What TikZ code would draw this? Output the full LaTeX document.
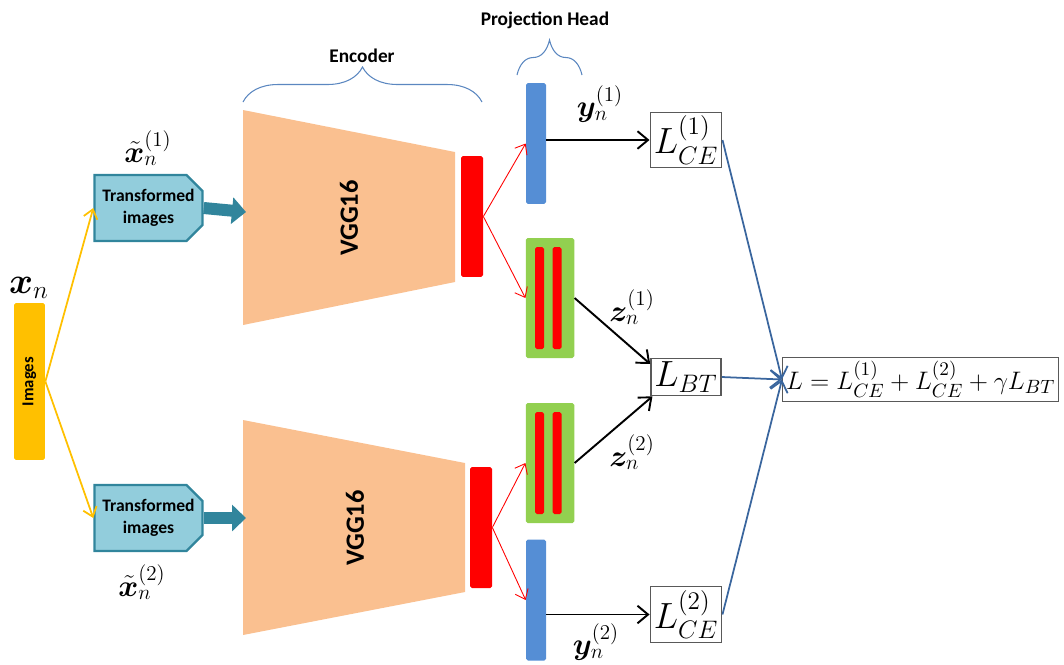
\documentclass[tikz,border=0pt]{standalone}
\usepackage{amsmath}
\usepackage{bm}
\usepackage{fontspec}
\newfontfamily\calibri{Carlito}
\usetikzlibrary{shapes.misc, arrows.meta, decorations.pathreplacing}
\definecolor{imgyellow}{HTML}{FFC000}
\definecolor{tfill}{HTML}{92CDDC}
\definecolor{tdraw}{HTML}{31859C}
\definecolor{peach}{HTML}{FAC090}
\definecolor{headblue}{HTML}{558ED5}
\definecolor{headgreen}{HTML}{92D050}
\definecolor{lossblue}{HTML}{3A669E}
\definecolor{braceblue}{HTML}{5B87C0}
\tikzset{
    imagesbar/.style = {rectangle, rounded corners=1pt, fill=imgyellow, minimum width=0.62cm, minimum height=3.14cm, inner sep=0pt, font=\calibri\bfseries\fontsize{9.5}{11}\selectfont},
    transformed/.style = {chamfered rectangle, chamfered rectangle corners={north east, south east}, chamfered rectangle xsep=0.16cm, chamfered rectangle ysep=0.16cm, draw=tdraw, line width=1.3pt, fill=tfill, minimum width=2.06cm, minimum height=1.32cm, inner sep=0pt, align=center, font=\calibri\bfseries\fontsize{10}{12.5}\selectfont},
    redbar/.style = {rectangle, rounded corners=1pt, fill=red, minimum width=0.44cm, minimum height=2.42cm, inner sep=0pt},
    bluebar/.style = {rectangle, rounded corners=1pt, fill=headblue, minimum width=0.4cm, minimum height=2.42cm, inner sep=0pt},
    greenbox/.style = {rectangle, rounded corners=1pt, fill=headgreen, minimum width=0.97cm, minimum height=2.4cm, inner sep=0pt},
    redline/.style = {rectangle, rounded corners=1pt, fill=red, minimum width=0.18cm, minimum height=2.04cm, inner sep=0pt},
    loss/.style = {rectangle, draw=black!65, line width=0.8pt, fill=white, minimum width=1.32cm, inner sep=2pt, font=\fontsize{20}{24}\selectfont},
    mathlbl/.style = {inner sep=0pt, font=\fontsize{18}{21}\selectfont},
    vgglbl/.style = {inner sep=0pt, font=\calibri\bfseries\fontsize{15}{18}\selectfont},
    title/.style = {inner sep=0pt, font=\calibri\bfseries\fontsize{11}{13}\selectfont},
    encbrace/.style = {draw=braceblue, line width=0.6pt, decorate, decoration={brace, amplitude=0.7cm}},
    yarrow/.style = {draw=imgyellow, line width=1pt, -{Straight Barb[length=5pt, width=8pt]}},
    blockarrow/.style = {draw=tdraw, line width=0.24cm, -{Triangle[length=0.28cm, width=0.52cm]}},
    rarrow/.style = {draw=red, line width=0.5pt, -{Straight Barb[length=5pt, width=8pt]}},
    arrow/.style = {draw=black, line width=1.1pt, -{Straight Barb[length=6pt, width=10pt]}},
    barrow/.style = {draw=lossblue, line width=1pt, -{Straight Barb[length=6pt, width=10pt]}}
}

\begin{document}
\begin{tikzpicture}[x=0.02cm, y=-0.02cm]
    \useasboundingbox (0,0) rectangle (1064,664);

    % inputs
    \node (img) [imagesbar] at (29.5,381.5) {\rotatebox{90}{Images}};
    \node (xn) [mathlbl, font=\fontsize{20}{24}\selectfont] at (29,288) {$\bm{x}_n$};
    \node (t1) [transformed] at (148.5,208) {Transformed\\images};
    \node (t2) [transformed] at (148.5,518) {Transformed\\images};
    \node (xt1) [mathlbl] at (148,148) {$\tilde{\bm{x}}_n^{(1)}$};
    \node (xt2) [mathlbl] at (142,582) {$\tilde{\bm{x}}_n^{(2)}$};

    % encoders
    \fill [peach] (243,110) -- (455,152) -- (455,282) -- (243,325) -- cycle;
    \fill [peach] (243,420) -- (465,463) -- (465,592) -- (243,635) -- cycle;
    \coordinate (enc1in) at (246,212);
    \coordinate (enc2in) at (246,518);
    \node (vgg1) [vgglbl] at (349,218) {\rotatebox{90}{VGG16}};
    \node (vgg2) [vgglbl] at (355,528) {\rotatebox{90}{VGG16}};
    \node (red1) [redbar] at (472,216.5) {};
    \node (red2) [redbar] at (481,527.5) {};

    % projection head
    \node (blue1) [bluebar] at (536,143.5) {};
    \node (blue2) [bluebar] at (536,600) {};
    \node (green1) [greenbox] at (550,298) {};
    \node (green2) [greenbox] at (550,463) {};
    \node (g1a) [redline] at (539.5,298) {};
    \node (g1b) [redline] at (557,298) {};
    \node (g2a) [redline] at (539.5,463) {};
    \node (g2b) [redline] at (557,463) {};

    % losses
    \node (l1) [loss] at (686,140) {$L_{CE}^{(1)}$};
    \node (l3) [loss] at (686,377) {$L_{BT}$};
    \node (l2) [loss] at (686,614.5) {$L_{CE}^{(2)}$};
    \node (total) [loss, anchor=west, minimum height=0.86cm, font=\fontsize{15.3}{18}\selectfont] at (782,379.5) {$L = L_{CE}^{(1)} + L_{CE}^{(2)} + \gamma L_{BT}$};

    % braces and titles
    \draw [encbrace] (243,102) -- (482,102);
    \draw [encbrace] (517,75) -- (582,75);
    \node (enctitle) [title] at (362,56) {Encoder};
    \node (projtitle) [title] at (545,20) {Projection Head};

    \draw [yarrow] (img.east) -- (t1.west);
    \draw [yarrow] (img.east) -- (t2.west);
    \draw [blockarrow] (t1.east) -- (enc1in);
    \draw [blockarrow] (t2.east) -- (enc2in);

    \draw [rarrow] (red1.east) -- (blue1.west);
    \draw [rarrow] (red1.east) -- (green1.west);
    \draw [rarrow] (red2.east) -- (green2.west);
    \draw [rarrow] (red2.east) -- (blue2.west);

    \draw [arrow] (l1.west -| blue1.east) -- (l1.west);
    \draw [arrow] (l2.west -| blue2.east) -- (l2.west);
    \draw [arrow] (green1.east) -- (l3.160);
    \draw [arrow] (green2.east) -- (l3.210);

    \node (y1) [mathlbl] at (600,104) {$\bm{y}_n^{(1)}$};
    \node (y2) [mathlbl] at (596,642) {$\bm{y}_n^{(2)}$};
    \node (z1) [mathlbl] at (632,307) {$\bm{z}_n^{(1)}$};
    \node (z2) [mathlbl] at (632,452) {$\bm{z}_n^{(2)}$};

    \draw [barrow] (l1.east) -- (total.west);
    \draw [barrow] (l3.east) -- (total.west);
    \draw [barrow] (l2.east) -- (total.west);
\end{tikzpicture}
\end{document}
